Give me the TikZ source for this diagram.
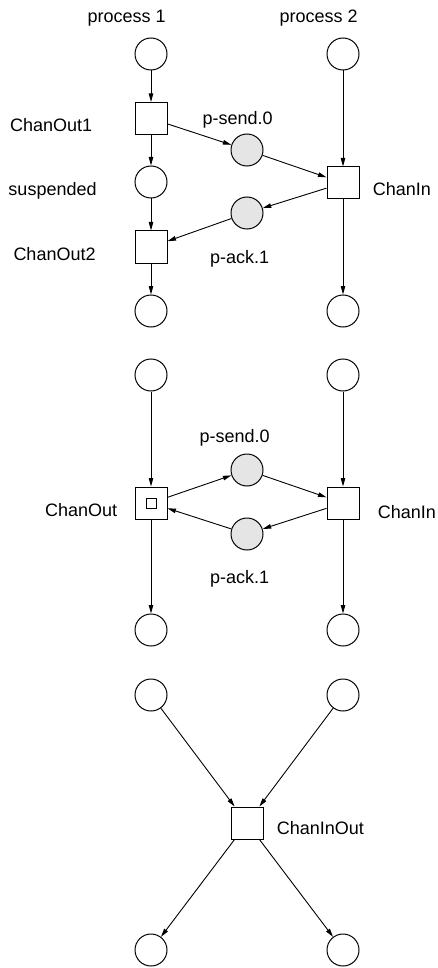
\documentclass[tikz,border=0pt]{standalone}
\usepackage{fontspec}
\setmainfont{Liberation Sans}
\usetikzlibrary{arrows.meta}
\definecolor{tokenfill}{RGB}{229,229,229}
\begin{document}
\begin{tikzpicture}[x=1pt,y=-1pt,
  place/.style={circle,draw,line width=1pt,minimum size=32pt,inner sep=0pt},
  chanplace/.style={place,fill=tokenfill},
  trans/.style={rectangle,draw,line width=1pt,minimum size=32pt,inner sep=0pt},
  lbl/.style={anchor=base west,inner sep=0pt,font=\fontsize{18}{20}\selectfont},
  arc/.style={line width=0.9pt,-{Triangle[length=8.5pt,width=4.5pt]}}]
\useasboundingbox (0,0) rectangle (438,968);

% ---- two processes with separate output steps ----
\node[lbl] (p1lbl) at (87.3,23) {process 1};
\node[lbl] (p2lbl) at (279.3,23) {process 2};
\node[place] (a1) at (151,54) {};
\node[place] (b1) at (343,54) {};
\node[trans] (co1) at (151,118.5) {};
\node[chanplace] (ps1) at (247,150) {};
\node[place] (susp) at (151,182) {};
\node[trans] (ci1) at (343,183) {};
\node[chanplace] (pa1) at (247,213) {};
\node[trans] (co2) at (151,247) {};
\node[place] (a2) at (151,311) {};
\node[place] (b2) at (343,311) {};
\node[lbl] (co1lbl) at (10,132) {ChanOut1};
\node[lbl] (ps1lbl) at (202.3,124.5) {p-send.0};
\node[lbl] (susplbl) at (8.3,196) {suspended};
\node[lbl] (ci1lbl) at (372.7,196) {ChanIn};
\node[lbl] (co2lbl) at (13.3,260) {ChanOut2};
\node[lbl] (pa1lbl) at (210,263) {p-ack.1};
\draw[arc] (a1) -- (co1);
\draw[arc] (co1) -- (susp);
\draw[arc] (co1) -- (ps1);
\draw[arc] (ps1) -- (ci1);
\draw[arc] (susp) -- (co2);
\draw[arc] (ci1) -- (pa1);
\draw[arc] (pa1) -- (co2);
\draw[arc] (co2) -- (a2);
\draw[arc] (b1) -- (ci1);
\draw[arc] (ci1) -- (b2);

% ---- merged output step ----
\node[place] (a3) at (151,375) {};
\node[place] (b3) at (343,375) {};
\node[chanplace] (ps2) at (247,470) {};
\node[trans] (co) at (151,503) {};
\node[rectangle,draw,line width=1pt,minimum size=10pt,inner sep=0pt] (cosub) at (151,503) {};
\node[trans] (ci2) at (343,503) {};
\node[chanplace] (pa2) at (247,534) {};
\node[place] (a4) at (151,630) {};
\node[place] (b4) at (343,630) {};
\node[lbl] (ps2lbl) at (199.3,442) {p-send.0};
\node[lbl] (colbl) at (45,516) {ChanOut};
\node[lbl] (ci2lbl) at (377.7,518) {ChanIn};
\node[lbl] (pa2lbl) at (210,583) {p-ack.1};
\draw[arc] (a3) -- (co);
\draw[arc] (b3) -- (ci2);
\draw[arc] (co) -- (ps2);
\draw[arc] (ps2) -- (ci2);
\draw[arc] (ci2) -- (pa2);
\draw[arc] (pa2) -- (co);
\draw[arc] (co) -- (a4);
\draw[arc] (ci2) -- (b4);

% ---- single combined transition ----
\node[place] (a5) at (151,695) {};
\node[place] (b5) at (343,695) {};
\node[trans] (cio) at (247,823) {};
\node[place] (a6) at (151,950) {};
\node[place] (b6) at (343,950) {};
\node[lbl] (ciolbl) at (276.7,834) {ChanInOut};
\draw[arc] (a5) -- (cio);
\draw[arc] (b5) -- (cio);
\draw[arc] (cio) -- (a6);
\draw[arc] (cio) -- (b6);
\end{tikzpicture}
\end{document}
